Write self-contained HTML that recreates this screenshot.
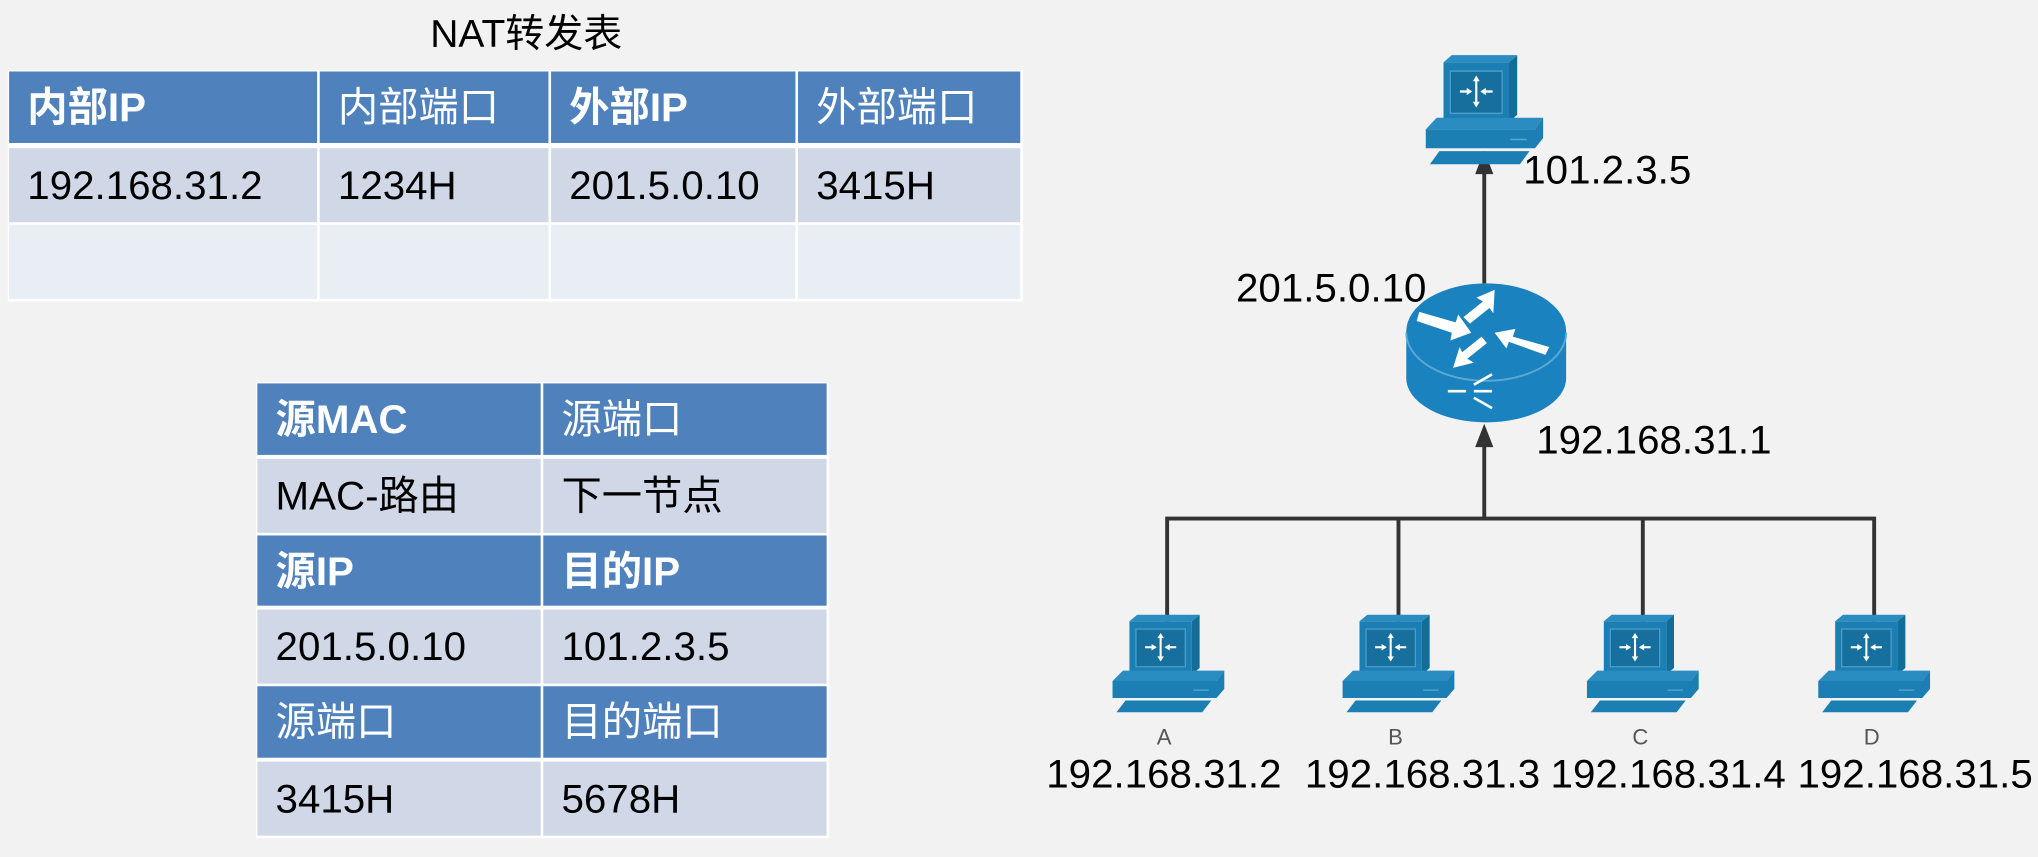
<!DOCTYPE html>
<html><head><meta charset="utf-8"><style>
html,body{margin:0;padding:0;background:#f2f2f2;width:2038px;height:856px;overflow:hidden}
#s{position:absolute;left:0;top:0;width:1568px;height:659px;transform:scale(1.2997);transform-origin:0 0;font-family:"Liberation Sans","Noto Sans CJK SC",sans-serif}
.c{position:absolute;box-sizing:border-box;font-size:31px;line-height:1;display:flex;align-items:center;padding-left:14px;color:#000;white-space:nowrap}
.h{background:#4f81bd;color:#fff}
.l{background:#d0d8e8}
.e{background:#e9edf4}
.t{position:absolute;font-size:31px;color:#000;white-space:nowrap;line-height:1}
</style></head><body><div id="s">
<div class="t" style="left:331px;top:12px;font-size:30px">NAT转发表</div>

<div style="position:absolute;left:6px;top:54px;width:781px;height:178px;background:#fff"></div>
<div class="c h" style="left:7px;top:55px;width:237px;height:55px;font-weight:bold">内部IP</div>
<div class="c h" style="left:246px;top:55px;width:176px;height:55px">内部端口</div>
<div class="c h" style="left:424px;top:55px;width:188px;height:55px;font-weight:bold">外部IP</div>
<div class="c h" style="left:614px;top:55px;width:171px;height:55px">外部端口</div>
<div class="c l" style="left:7px;top:114px;width:237px;height:57px">192.168.31.2</div>
<div class="c l" style="left:246px;top:114px;width:176px;height:57px">1234H</div>
<div class="c l" style="left:424px;top:114px;width:188px;height:57px">201.5.0.10</div>
<div class="c l" style="left:614px;top:114px;width:171px;height:57px">3415H</div>
<div class="c e" style="left:7px;top:173px;width:237px;height:57px"></div>
<div class="c e" style="left:246px;top:173px;width:176px;height:57px"></div>
<div class="c e" style="left:424px;top:173px;width:188px;height:57px"></div>
<div class="c e" style="left:614px;top:173px;width:171px;height:57px"></div>

<div style="position:absolute;left:197px;top:294px;width:441px;height:351px;background:#fff"></div>
<div class="c h" style="left:198px;top:295px;width:218px;height:55px;font-weight:bold">源MAC</div>
<div class="c h" style="left:418px;top:295px;width:218px;height:55px">源端口</div>
<div class="c l" style="left:198px;top:353px;width:218px;height:57px">MAC-路由</div>
<div class="c l" style="left:418px;top:353px;width:218px;height:57px">下一节点</div>
<div class="c h" style="left:198px;top:412px;width:218px;height:54px;font-weight:bold">源IP</div>
<div class="c h" style="left:418px;top:412px;width:218px;height:54px;font-weight:bold">目的IP</div>
<div class="c l" style="left:198px;top:469px;width:218px;height:57px">201.5.0.10</div>
<div class="c l" style="left:418px;top:469px;width:218px;height:57px">101.2.3.5</div>
<div class="c h" style="left:198px;top:528px;width:218px;height:55px">源端口</div>
<div class="c h" style="left:418px;top:528px;width:218px;height:55px">目的端口</div>
<div class="c l" style="left:198px;top:586px;width:218px;height:57px">3415H</div>
<div class="c l" style="left:418px;top:586px;width:218px;height:57px">5678H</div>

<svg style="position:absolute;left:0;top:0" width="1568" height="659" viewBox="0 0 1568 659">
<defs>
<g id="pc">
 <polygon points="61,0 67,-5 67,36 61,41" fill="#136d99"/>
 <rect x="13" y="0" width="48" height="41" fill="#1b7fb3"/>
 <polygon points="13,0 19,-5 67,-5 61,0" fill="#2a8cc0"/>
 <rect x="18" y="6" width="38" height="29" fill="#166f9d" stroke="#4c9dc8" stroke-width="1"/>
 <g stroke="#fff" stroke-width="1.6" fill="#fff">
  <line x1="25" y1="20" x2="33" y2="20"/><line x1="41" y1="20" x2="49" y2="20"/>
  <line x1="37" y1="11" x2="37" y2="29"/>
  <polygon points="34,20 30,17.5 30,22.5" stroke="none"/><polygon points="40,20 44,17.5 44,22.5" stroke="none"/>
  <polygon points="37,9 34.5,13 39.5,13" stroke="none"/><polygon points="37,31 34.5,27 39.5,27" stroke="none"/>
 </g>
 <polygon points="0,46 8,38 86,38 80,46" fill="#2a8cc0"/>
 <polygon points="0,46 80,46 86,38 86,52 80,59 0,59" fill="#1b7fb3"/>
 <line x1="62" y1="53" x2="74" y2="53" stroke="#5aa7d0" stroke-width="1"/>
 <polygon points="10,61 76,61 69,70 3,70" fill="#1b7fb3"/>
</g>
</defs>
<g stroke="#333" stroke-width="3" fill="none">
 <line x1="1142" y1="132" x2="1142" y2="218"/>
 <line x1="1142" y1="340" x2="1142" y2="399"/>
 <polyline points="898,478 898,399 1442,399 1442,478"/>
 <line x1="1076" y1="399" x2="1076" y2="478"/>
 <line x1="1264" y1="399" x2="1264" y2="478"/>
</g>
<polygon points="1142,116 1135,134 1149,134" fill="#333"/>
<polygon points="1142,326 1135,344 1149,344" fill="#333"/>

<use href="#pc" transform="translate(1097,48) scale(1.05,1.12)"/>
<use href="#pc" transform="translate(856,478)"/>
<use href="#pc" transform="translate(1033,478)"/>
<use href="#pc" transform="translate(1221,478)"/>
<use href="#pc" transform="translate(1399,478)"/>

<g>
 <rect x="1082" y="255" width="123" height="36" fill="#1a82bf"/>
 <ellipse cx="1143.5" cy="291" rx="61.5" ry="34" fill="#1a82bf"/>
 <ellipse cx="1143.5" cy="255" rx="61.5" ry="37" fill="#1a82bf"/>
 <path d="M1082,256 A61.5,37 0 0 0 1205,256" fill="none" stroke="#5aa8d6" stroke-width="1.5"/>
 <g fill="#fff">
  <polygon points="1092,240 1120,248 1122,242 1132,256 1116,262 1117,256 1090,247"/>
  <polygon points="1150,223 1136,229 1141,232 1126,244 1131,249 1146,237 1149,241"/>
  <polygon points="1192,267 1164,259 1166,253 1150,256 1159,268 1161,263 1189,273"/>
  <polygon points="1118,283 1134,279 1129,276 1144,264 1140,259 1125,271 1123,267"/>
 </g>
 <g stroke="#fff" stroke-width="2" fill="none">
  <line x1="1114" y1="301" x2="1128" y2="301"/>
  <line x1="1134" y1="301" x2="1148" y2="301"/>
  <line x1="1134" y1="296" x2="1148" y2="288"/>
  <line x1="1134" y1="306" x2="1148" y2="314"/>
 </g>
</g>
</svg>

<div class="t" style="left:1172px;top:115px">101.2.3.5</div>
<div class="t" style="left:951px;top:206px">201.5.0.10</div>
<div class="t" style="left:1182px;top:323px">192.168.31.1</div>
<div class="t" style="left:890px;top:559px;font-size:17px;color:#555">A</div>
<div class="t" style="left:1068px;top:559px;font-size:17px;color:#555">B</div>
<div class="t" style="left:1256px;top:559px;font-size:17px;color:#555">C</div>
<div class="t" style="left:1434px;top:559px;font-size:17px;color:#555">D</div>
<div class="t" style="left:805px;top:580px">192.168.31.2</div>
<div class="t" style="left:1004px;top:580px">192.168.31.3</div>
<div class="t" style="left:1193px;top:580px">192.168.31.4</div>
<div class="t" style="left:1383px;top:580px">192.168.31.5</div>
</div></body></html>
